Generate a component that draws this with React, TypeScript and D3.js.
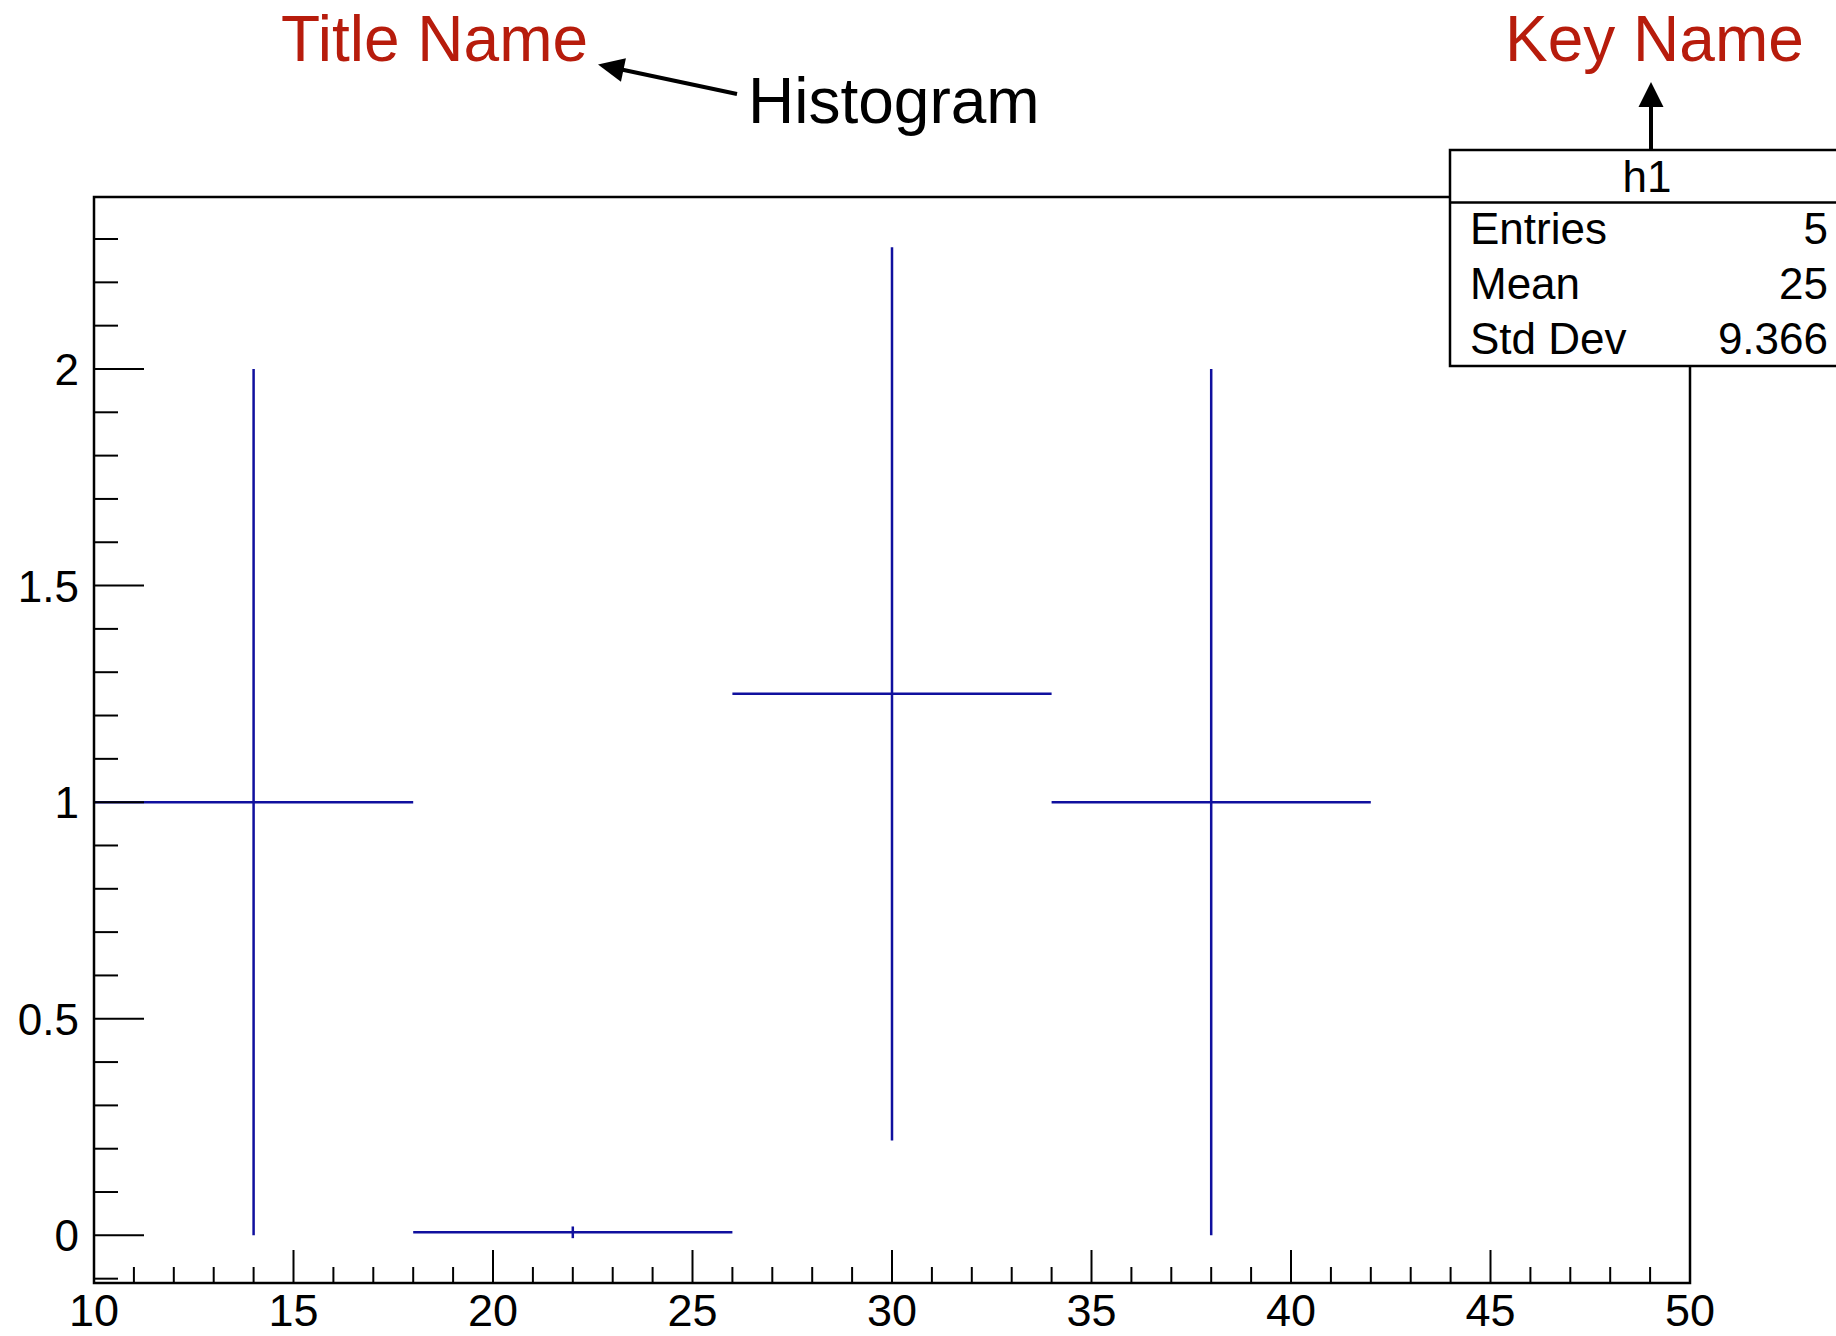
import React from "react";
import * as d3 from "d3";

// ---- data ----
const binEdges = [10, 18, 26, 34, 42, 50];
const binContent = [1, 0.007, 1.25, 1, 0];
const binError = [1, 0.0135, 1.031, 1, 0];

const xTickMajor = [10, 15, 20, 25, 30, 35, 40, 45, 50];
const yTickMajor = [0, 0.5, 1, 1.5, 2];
const yTickLabels = ["0", "0.5", "1", "1.5", "2"];

const statsName = "h1";
const statsLabels = ["Entries", "Mean", "Std Dev"];
const statsValues = ["5", "25", "9.366"];

const histTitle = "Histogram";
const annotTitle = "Title Name";
const annotKey = "Key Name";

const W = 1836;
const H = 1336;
const FONT = "'Liberation Sans', Arial, Helvetica, sans-serif";
const BLUE = "#10109e";
const RED = "#b71c0c";

function arrowHead(x1: number, y1: number, x2: number, y2: number, len: number, half: number) {
  const dx = x2 - x1;
  const dy = y2 - y1;
  const L = Math.hypot(dx, dy);
  const ux = dx / L;
  const uy = dy / L;
  const bx = x2 - ux * len;
  const by = y2 - uy * len;
  const px = -uy;
  const py = ux;
  return {
    line: { x1, y1, x2: bx + ux * 2, y2: by + uy * 2 },
    pts: `${x2},${y2} ${bx + px * half},${by + py * half} ${bx - px * half},${by - py * half}`,
  };
}

export default function App() {
  const left = 94;
  const right = 1690;
  const top = 197;
  const bottom = 1283;

  const x = d3.scaleLinear().domain([10, 50]).range([left, right]);
  const y = d3.scaleLinear().domain([-0.11, 2.397]).range([bottom, top]);

  const xMinor = d3.range(11, 50, 1).filter((v) => v % 5 !== 0);
  const yMinor = d3.range(-1, 24, 1).map((v) => v / 10).filter((v) => Math.abs((v * 10) % 5) > 1e-6);

  const bins = binContent
    .map((c, i) => ({ c, e: binError[i], lo: binEdges[i], hi: binEdges[i + 1] }))
    .filter((b) => b.c > 0);

  const a1 = arrowHead(737, 94, 598, 64.5, 26, 12);
  const a2 = arrowHead(1651, 150, 1651, 82, 25, 12.5);

  const statsBase = [243.5, 299, 353.5];

  return (
    <svg
      width={W}
      height={H}
      viewBox={`0 0 ${W} ${H}`}
      style={{ position: "absolute", left: 0, top: 0, display: "block", background: "#fff" }}
      fontFamily={FONT}
    >
      <rect x={0} y={0} width={W} height={H} fill="#fff" />

      {/* histogram bins with error bars */}
      <g stroke={BLUE} strokeWidth={2.5} fill="none">
        {bins.map((b, i) => {
          const cx = x((b.lo + b.hi) / 2);
          return (
            <g key={i}>
              <line x1={x(b.lo)} x2={x(b.hi)} y1={y(b.c)} y2={y(b.c)} />
              <line x1={cx} x2={cx} y1={y(b.c - b.e)} y2={y(b.c + b.e)} />
            </g>
          );
        })}
      </g>

      {/* axes ticks */}
      <g stroke="#000" strokeWidth={2}>
        {xMinor.map((v) => (
          <line key={"xm" + v} x1={x(v)} x2={x(v)} y1={bottom} y2={bottom - 16} />
        ))}
        {xTickMajor.map((v) => (
          <line key={"xM" + v} x1={x(v)} x2={x(v)} y1={bottom} y2={bottom - 33} />
        ))}
        {yMinor.map((v) => (
          <line key={"ym" + v} x1={left} x2={left + 24} y1={y(v)} y2={y(v)} />
        ))}
        {yTickMajor.map((v) => (
          <line key={"yM" + v} x1={left} x2={left + 50} y1={y(v)} y2={y(v)} />
        ))}
      </g>

      {/* frame */}
      <rect x={left} y={top} width={right - left} height={bottom - top} fill="none" stroke="#000" strokeWidth={2.5} />

      {/* tick labels */}
      <g fontSize={45} fill="#000" textAnchor="middle">
        {xTickMajor.map((v) => (
          <text key={"xl" + v} x={x(v)} y={1326}>
            {v}
          </text>
        ))}
      </g>
      <g fontSize={44} fill="#000" textAnchor="end">
        {yTickMajor.map((v, i) => (
          <text key={"yl" + v} x={79} y={y(v) + 16}>
            {yTickLabels[i]}
          </text>
        ))}
      </g>

      {/* histogram title */}
      <text x={748} y={123} fontSize={64} fill="#000">
        {histTitle}
      </text>

      {/* stats box */}
      <g>
        <rect x={1450} y={150} width={400} height={216} fill="#fff" stroke="#000" strokeWidth={2.5} />
        <line x1={1450} x2={1850} y1={202.5} y2={202.5} stroke="#000" strokeWidth={2.5} />
        <text x={1647} y={192} fontSize={44} textAnchor="middle" fill="#000">
          {statsName}
        </text>
        {statsLabels.map((l, i) => (
          <g key={l}>
            <text x={1470} y={statsBase[i]} fontSize={44} fill="#000">
              {l}
            </text>
            <text x={1828} y={statsBase[i]} fontSize={44} fill="#000" textAnchor="end">
              {statsValues[i]}
            </text>
          </g>
        ))}
      </g>

      {/* annotations */}
      <text x={281} y={61} fontSize={64} fill={RED}>
        {annotTitle}
      </text>
      <text x={1505} y={61} fontSize={64} fill={RED}>
        {annotKey}
      </text>
      <g stroke="#000" strokeWidth={4} fill="#000">
        <line {...a1.line} />
        <polygon points={a1.pts} stroke="none" />
        <line {...a2.line} />
        <polygon points={a2.pts} stroke="none" />
      </g>
    </svg>
  );
}
